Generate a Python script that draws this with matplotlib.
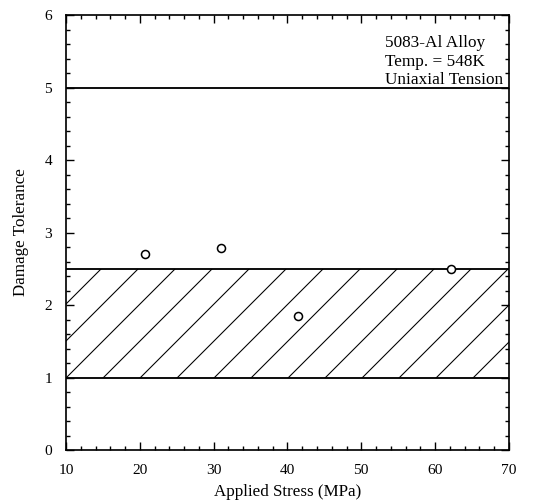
import matplotlib
matplotlib.use('Agg')
import matplotlib.pyplot as plt
import numpy as np

# datos
stress = [20.7, 31.0, 41.4, 62.2]
tolerance = [2.70, 2.79, 1.85, 2.50]
band_low = 1.0
band_high = 2.5
upper_limit = 5.0
x_ticks = [10, 20, 30, 40, 50, 60, 70]
y_ticks = [0, 1, 2, 3, 4, 5, 6]
note_lines = ['5083-Al Alloy', 'Temp. = 548K', 'Uniaxial Tension']

DPI = 222  # hatch spacing follows the dpi
plt.rcParams['font.family'] = ['Liberation Serif', 'DejaVu Serif']
plt.rcParams['hatch.linewidth'] = 0.35

fig = plt.figure(figsize=(542 / DPI, 504 / DPI), dpi=DPI)
ax = fig.add_axes([0.1218, 0.1071, 0.8172, 0.8631])

ax.fill_between([x_ticks[0], x_ticks[-1]], band_low, band_high,
                facecolor='none', edgecolor='black', hatch='//', linewidth=0)
ax.axhline(band_low, color='black', lw=0.6)
ax.axhline(band_high, color='black', lw=0.6)
ax.axhline(upper_limit, color='black', lw=0.6)

ax.plot(stress, tolerance, linestyle='', marker='o', markersize=2.6,
        markerfacecolor='white', markeredgecolor='black', markeredgewidth=0.5)

ax.set_xlim(x_ticks[0], x_ticks[-1])
ax.set_ylim(y_ticks[0], y_ticks[-1])
ax.set_xticks(x_ticks)
ax.set_yticks(y_ticks)
ax.set_xticks(np.arange(10, 71, 2), minor=True)
ax.set_yticks(np.arange(0, 6.01, 0.2), minor=True)
ax.tick_params(which='both', direction='in', top=True, right=True,
               width=0.45, labelsize=5.0)
ax.tick_params(axis='y', pad=4.5)
ax.tick_params(axis='x', pad=4.5)
ax.tick_params(which='major', length=2.6)
ax.tick_params(which='minor', length=1.4)
for s in ax.spines.values():
    s.set_linewidth(0.55)

ax.set_xlabel('Applied Stress (MPa)', fontsize=5.5, labelpad=2.2)
ax.set_ylabel('Damage Tolerance', fontsize=5.5, labelpad=5)

ax.text(0.72, 0.953, '\n'.join(note_lines), transform=ax.transAxes,
        fontsize=5.6, va='top', ha='left', linespacing=1.2)

fig.savefig('out.png', dpi=DPI)
